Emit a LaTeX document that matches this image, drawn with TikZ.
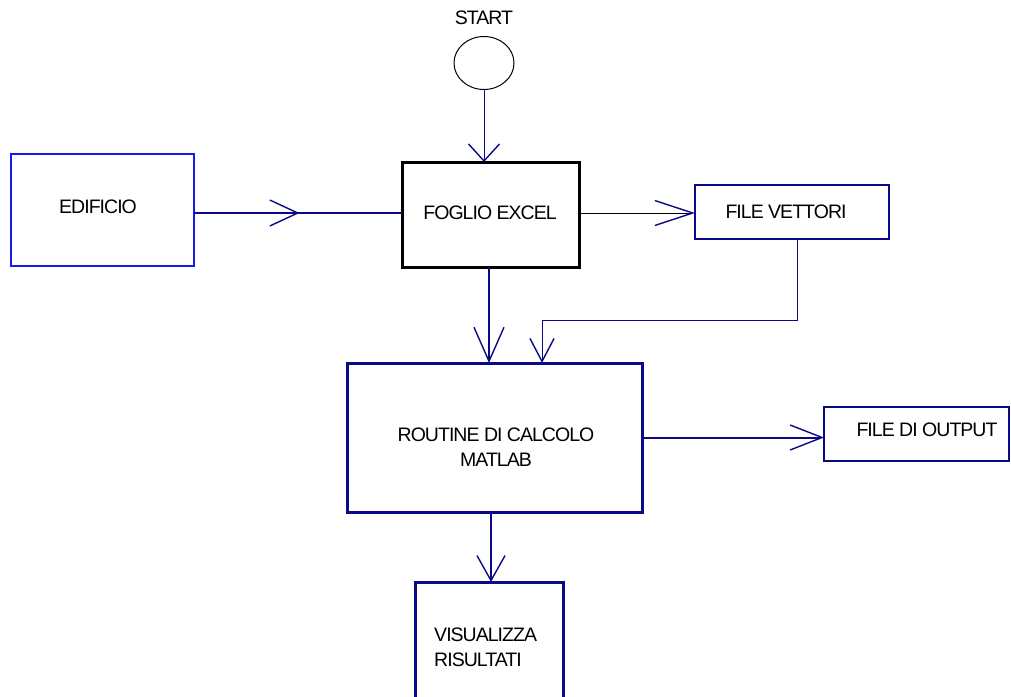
\documentclass[tikz,border=0pt]{standalone}
\usepackage{fontspec}
\setmainfont{Liberation Sans}[LetterSpace=-5]
\usetikzlibrary{arrows.meta,decorations.markings,shapes.geometric}
\definecolor{navyline}{RGB}{10,10,135}
\definecolor{brightblue}{RGB}{25,25,235}

\begin{document}
\begin{tikzpicture}[x=1pt,y=-1pt,
  font=\fontsize{19.5}{25}\selectfont,
  box/.style={draw, rectangle, inner sep=0pt, outer sep=0pt},
  txt/.style={inner sep=0pt, align=center},
  barb/.style 2 args={-{Straight Barb[length=#1,width=#2,line width=1.4pt]}}
]
\useasboundingbox (0,0) rectangle (1011,696);

% start terminal
\node[draw, ellipse, minimum width=60pt, minimum height=53pt, inner sep=0pt, outer sep=0pt, line width=1pt] (start) at (484,63) {};
\node[txt] (start-t) at (484,18) {START};

% boxes
\node[box, draw=brightblue, line width=1.3pt, minimum width=183pt, minimum height=112pt] (edif) at (102.5,210) {};
\node[txt] (edif-t) at (98,207) {EDIFICIO};

\node[box, draw=black, line width=3pt, minimum width=177pt, minimum height=105pt] (foglio) at (490.5,214.5) {};
\node[txt] (foglio-t) at (490,213) {FOGLIO EXCEL};

\node[box, draw=navyline, line width=2pt, minimum width=194pt, minimum height=54pt] (vettori) at (792,212) {};
\node[txt] (vettori-t) at (786,212) {FILE VETTORI};

\node[box, draw=navyline, line width=3pt, minimum width=295pt, minimum height=149pt] (routine) at (494.5,437.5) {};
\node[txt] (routine-t) at (496,447) {ROUTINE DI CALCOLO\\MATLAB};

\node[box, draw=navyline, line width=2pt, minimum width=185pt, minimum height=54pt] (output) at (916.5,434) {};
\node[txt] (output-t) at (927,430) {FILE DI OUTPUT};

\node[box, draw=navyline, line width=3pt, minimum width=148pt, minimum height=128pt] (vis) at (489,646) {};
\node[txt, align=left, anchor=west] (vis-t) at (434,647) {VISUALIZZA\\RISULTATI};

% connectors
\draw[navyline, line width=1pt, barb={17pt}{31pt}] (start.south) -- (start.south |- foglio.north);

\draw[navyline, line width=2pt, postaction={decorate},
  decoration={markings, mark=at position 0.507 with {\arrow{Straight Barb[length=28pt,width=26pt,line width=1.4pt]}}}]
  ([yshift=-3pt]edif.east) -- ([yshift=-3pt]edif.east -| foglio.west);

\draw[black, line width=1pt, -{Straight Barb[length=38pt,width=25pt,color=navyline,line width=1.4pt]}]
  ([yshift=1.5pt]foglio.east) -- ([yshift=1.5pt]foglio.east -| vettori.west);

\draw[navyline, line width=2pt, barb={34pt}{30pt}]
  ([xshift=-1.5pt]foglio.south) -- ([xshift=-1.5pt]foglio.south |- routine.north);

\coordinate (join) at (542,320);
\draw[navyline, line width=1pt, barb={23pt}{24pt}]
  ([xshift=5pt]vettori.south) |- (join) -- (join |- routine.north);

\draw[navyline, line width=2pt, barb={32pt}{25pt}]
  (routine.east) -- (routine.east -| output.west);

\draw[navyline, line width=1.5pt, barb={25pt}{28pt}]
  ([xshift=-3.5pt]routine.south) -- ([xshift=-3.5pt]routine.south |- vis.north);
\end{tikzpicture}
\end{document}
